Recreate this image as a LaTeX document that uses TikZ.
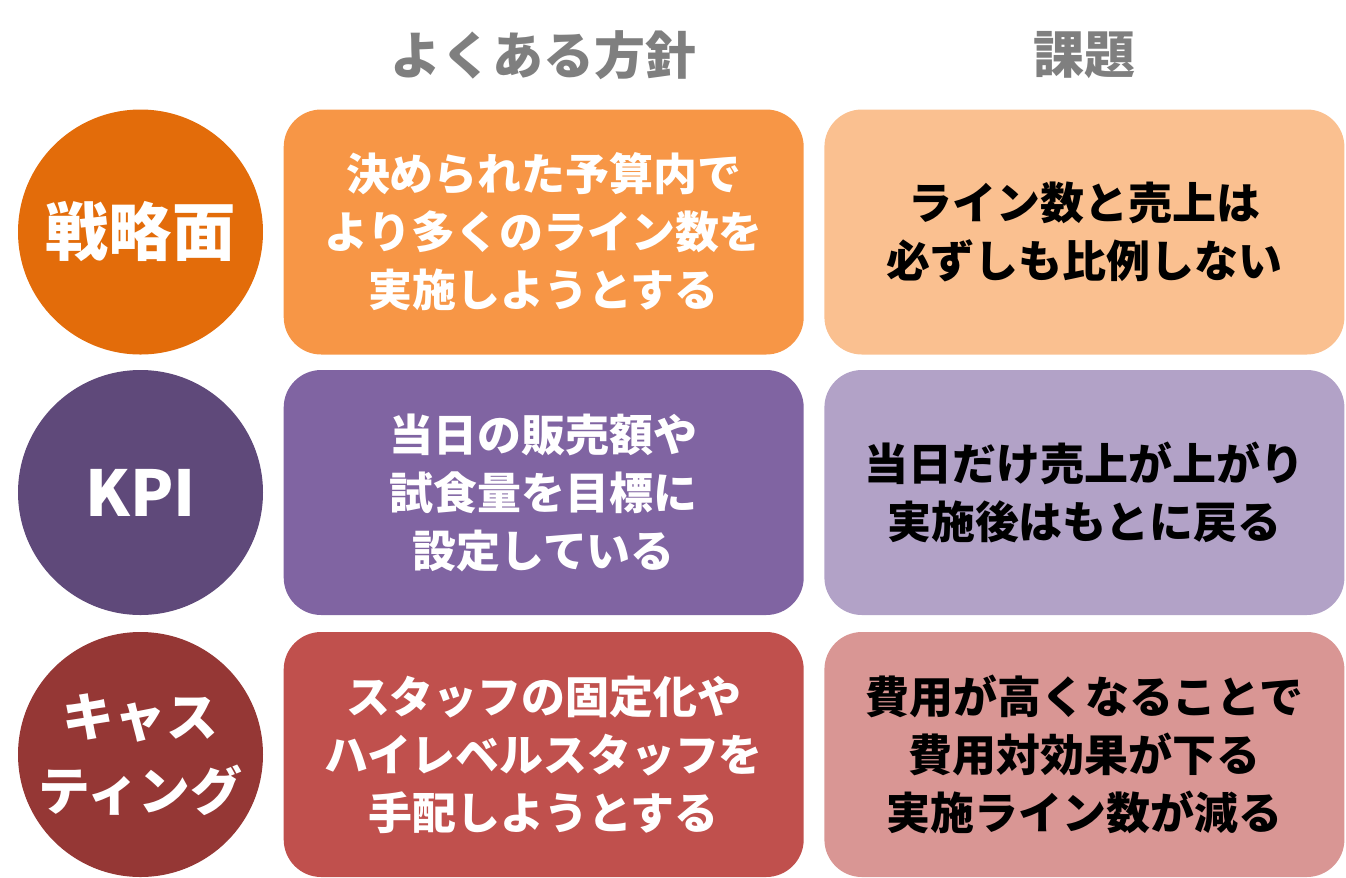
\documentclass[tikz,border=0pt]{standalone}
\usepackage{fontspec}
\setmainfont{Noto Sans CJK JP}
\usetikzlibrary{positioning}

\definecolor{orangedark}{HTML}{E36C0A}
\definecolor{orangemid}{HTML}{F79646}
\definecolor{orangelight}{HTML}{FAC090}
\definecolor{purpledark}{HTML}{5F497A}
\definecolor{purplemid}{HTML}{8064A2}
\definecolor{purplelight}{HTML}{B2A2C7}
\definecolor{reddark}{HTML}{953735}
\definecolor{redmid}{HTML}{C0504D}
\definecolor{redlight}{HTML}{D99694}
\definecolor{headgray}{HTML}{7F7F7F}

\begin{document}
\begin{tikzpicture}[
    node distance=0.42cm and 0.40cm,
    topic/.style={circle, minimum size=4.9cm, inner sep=0pt, align=center, text=white,
      font=\bfseries\fontsize{36}{44}\selectfont},
    policy/.style={rounded corners=0.75cm, minimum width=10.4cm, minimum height=4.9cm,
      inner sep=0pt, align=center, text=white, font=\bfseries\fontsize{25}{33}\selectfont},
    issue/.style={policy, text=black},
    header/.style={text=headgray, font=\bfseries\fontsize{29}{33}\selectfont}
  ]
    \useasboundingbox (0,0) rectangle (26.92,-17.54);
    % row 1
    \node[topic, fill=orangedark] (strategy) at (2.81,-4.64) {戦略面};
    \node[policy, fill=orangemid, right=of strategy] (policyA) {決められた予算内で\\より多くのライン数を\\実施しようとする};
    \node[issue, fill=orangelight, right=of policyA] (issueA) {ライン数と売上は\\必ずしも比例しない};
    % row 2
    \node[topic, fill=purpledark] (kpi) at (2.81,-9.85) {KPI};
    \node[policy, fill=purplemid, right=of kpi] (policyB) {当日の販売額や\\試食量を目標に\\設定している};
    \node[issue, fill=purplelight, right=of policyB] (issueB) {当日だけ売上が上がり\\実施後はもとに戻る};
    % row 3
    \node[topic, fill=reddark, font=\bfseries\fontsize{29.5}{42}\selectfont] (casting) at (2.81,-15.09) {キャス\\ティング};
    \node[policy, fill=redmid, right=of casting] (policyC) {スタッフの固定化や\\ハイレベルスタッフを\\手配しようとする};
    \node[issue, fill=redlight, right=of policyC] (issueC) {費用が高くなることで\\費用対効果が下る\\実施ライン数が減る};
    % column heads
    \node[header] (headPolicy) at (policyA.center |- 0,-1.1) {よくある方針};
    \node[header] (headIssue) at (issueA.center |- 0,-1.1) {課題};
\end{tikzpicture}
\end{document}
